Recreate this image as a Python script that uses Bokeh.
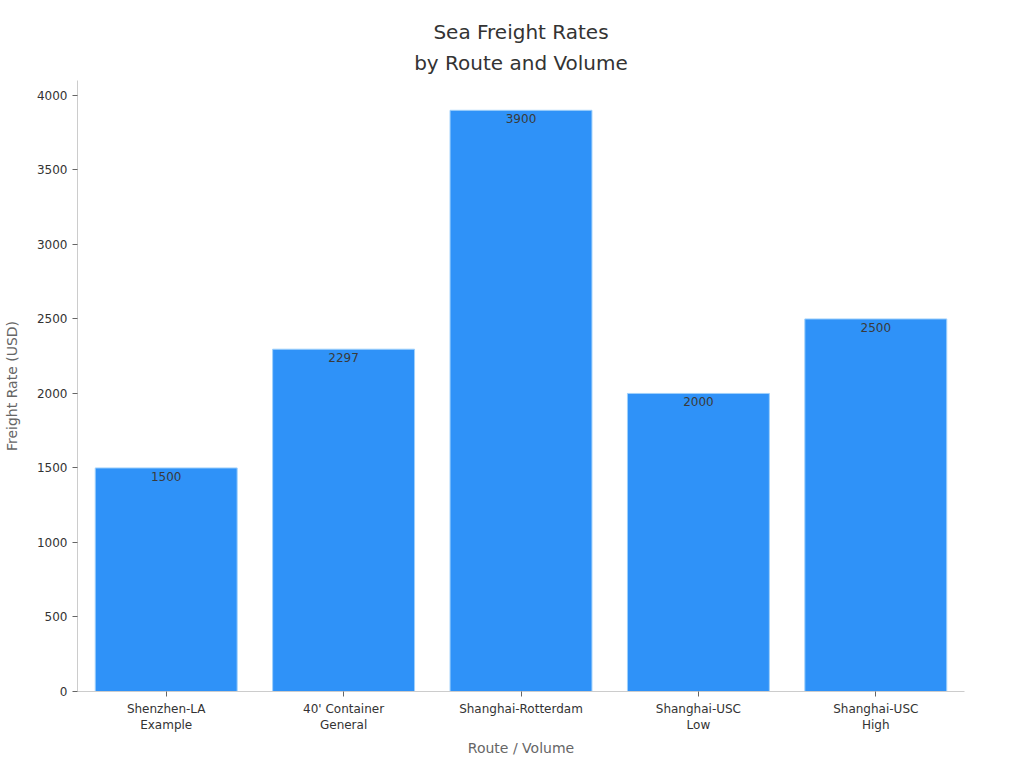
"""
Sea freight rates by route and volume, as a bar chart
"""
from bokeh.plotting import figure
from bokeh.models import ColumnDataSource, FactorRange, Title
from bokeh.embed import file_html
from bokeh.resources import INLINE

routes = [
    "Shenzhen-LA\nExample",
    "40' Container\nGeneral",
    "Shanghai-Rotterdam",
    "Shanghai-USC\nLow",
    "Shanghai-USC\nHigh",
]
rates = [1500, 2297, 3900, 2000, 2500]
rate_labels = [str(r) for r in rates]
title_lines = ["Sea Freight Rates", "by Route and Volume"]

FONT = "DejaVu Sans"

source = ColumnDataSource(data=dict(route=routes, rate=rates, label=rate_labels))

p = figure(
    x_range=FactorRange(*routes, range_padding=0),
    y_range=(0, 4100),
    frame_width=887,
    frame_height=611,
    output_backend="svg",
    toolbar_location=None,
    min_border_left=76,
    min_border_right=45,
    min_border_top=80,
    min_border_bottom=69,
)

# second line first: later titles stack above earlier ones
for i, line in enumerate(reversed(title_lines)):
    t = Title(
        text=line,
        align="center",
        text_font=FONT,
        text_font_size="20px",
        text_font_style="normal",
        text_color="#333333",
        standoff=11 if i == 0 else 0,
    )
    p.add_layout(t, "above")

p.vbar(
    x="route",
    top="rate",
    width=0.8,
    source=source,
    fill_color="#2f92f8",
    line_color="#9fd0fb",
    line_width=1,
)

p.text(
    x="route",
    y="rate",
    text="label",
    source=source,
    text_align="center",
    text_baseline="top",
    y_offset=4,
    text_font_size="12px",
    text_color="#3a3a3a",
    text_font={"value": FONT},
)

p.xgrid.visible = False
p.ygrid.visible = False
p.outline_line_color = None

for ax in (p.xaxis, p.yaxis):
    ax.axis_line_color = "#cccccc"
    ax.major_tick_line_color = "#666666"
    ax.minor_tick_line_color = None
    ax.major_tick_in = 0
    ax.major_tick_out = 5
    ax.major_label_text_font = FONT
    ax.major_label_text_font_size = "12px"
    ax.major_label_text_color = "#333333"
    ax.axis_label_text_font = FONT
    ax.axis_label_text_font_size = "14px"
    ax.axis_label_text_font_style = "normal"
    ax.axis_label_text_color = "#666666"

p.xaxis.axis_label = "Route / Volume"
p.yaxis.axis_label = "Freight Rate (USD)"
p.yaxis.axis_label_standoff = 14
p.yaxis.ticker = [0, 500, 1000, 1500, 2000, 2500, 3000, 3500, 4000]

open("out.html", "w").write(file_html(p, INLINE))
